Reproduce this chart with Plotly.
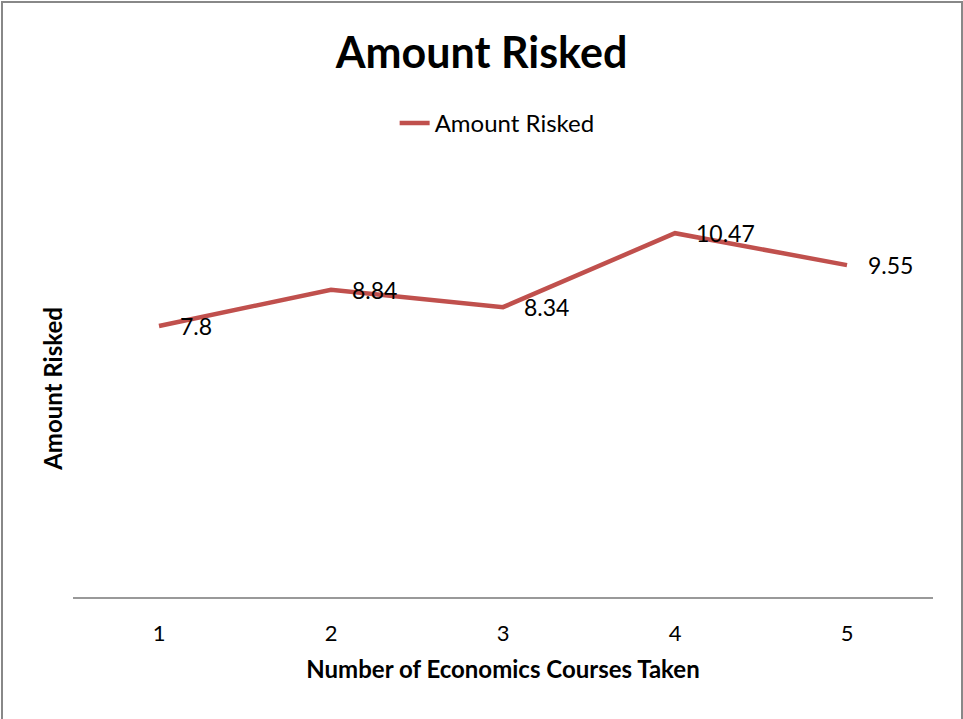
import plotly.graph_objects as go

courses = [1, 2, 3, 4, 5]
tick_labels = ["1", "2", "3", "4", "5"]
amount_risked = [7.8, 8.84, 8.34, 10.47, 9.55]
label_texts = ["7.8", "8.84", "8.34", "10.47", "9.55"]
series_name = "Amount Risked"

FONT = "Lato, 'Open Sans', sans-serif"
RED = "#C0504D"

fig = go.Figure()
fig.add_trace(go.Scatter(
    x=courses, y=amount_risked, mode="lines", name=series_name,
    line=dict(color=RED, width=4.5),
))

for xv, yv, t in zip(courses, amount_risked, label_texts):
    fig.add_annotation(x=xv, y=yv, text=t, showarrow=False,
                       xanchor="left", yanchor="middle", xshift=19, yshift=0,
                       font=dict(family=FONT, size=23, color="#000000"))

fig.update_layout(
    width=963, height=719,
    margin=dict(l=73, r=30, t=180, b=122),
    paper_bgcolor="white", plot_bgcolor="white",
    title=dict(text="<b>Amount Risked</b>", x=0.5, xanchor="center",
               y=1 - 53 / 719, yanchor="middle",
               font=dict(family=FONT, size=43, color="#000000")),
    showlegend=True,
    legend=dict(orientation="h", x=0.374, xanchor="left", y=1.136, yanchor="middle",
                font=dict(family=FONT, size=24, color="#000000"),
                bgcolor="rgba(0,0,0,0)"),
    xaxis=dict(range=[0.5, 5.5], tickmode="array", tickvals=courses, ticktext=tick_labels,
               showgrid=False, zeroline=False, showline=True, linecolor="#999999", linewidth=2,
               ticks="", ticklabelstandoff=16,
               tickfont=dict(family=FONT, size=22, color="#000000"),
               title=dict(text="<b>Number of Economics Courses Taken</b>", standoff=16,
                          font=dict(family=FONT, size=24, color="#000000"))),
    yaxis=dict(range=[0, 12], showgrid=False, zeroline=False, showline=False,
               showticklabels=False, ticks="",
               title=dict(text="<b>Amount Risked</b>", standoff=2,
                          font=dict(family=FONT, size=24, color="#000000"))),
    shapes=[dict(type="rect", xref="paper", yref="paper",
                 x0=-71 / 860, x1=889 / 860, y0=-125 / 417, y1=(597 - 2) / 417,
                 line=dict(color="#888888", width=2), fillcolor="rgba(0,0,0,0)")],
)

fig.write_html("out.html")
